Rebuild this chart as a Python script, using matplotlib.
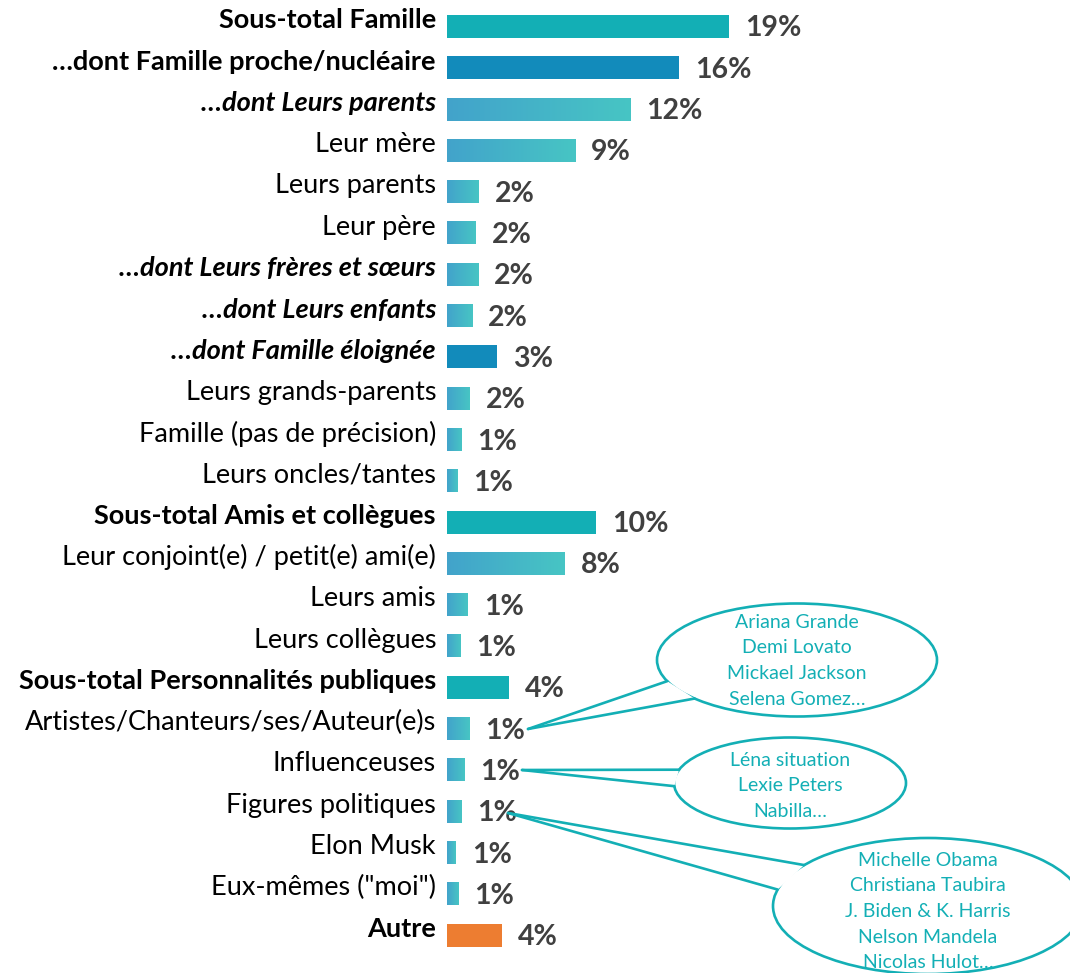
import numpy as np
import matplotlib
matplotlib.use("Agg")
import matplotlib.pyplot as plt
from matplotlib.colors import LinearSegmentedColormap
from matplotlib.patches import Ellipse, Polygon
from matplotlib.transforms import offset_copy

plt.rcParams['font.family'] = ['Lato', 'DejaVu Sans']

# data (bar lengths in %, labels as printed)
categories = [
    "Sous-total Famille",
    "…dont Famille proche/nucléaire",
    "…dont Leurs parents",
    "Leur mère",
    "Leurs parents",
    "Leur père",
    "…dont Leurs frères et sœurs",
    "…dont Leurs enfants",
    "…dont Famille éloignée",
    "Leurs grands-parents",
    "Famille (pas de précision)",
    "Leurs oncles/tantes",
    "Sous-total Amis et collègues",
    "Leur conjoint(e) / petit(e) ami(e)",
    "Leurs amis",
    "Leurs collègues",
    "Sous-total Personnalités publiques",
    "Artistes/Chanteurs/ses/Auteur(e)s",
    "Influenceuses",
    "Figures politiques",
    "Elon Musk",
    "Eux-mêmes (\"moi\")",
    "Autre",
]
values = [19.05, 15.7, 12.4, 8.65, 2.15, 1.95, 2.1, 1.7, 3.4, 1.55, 0.95, 0.7,
          10.05, 7.95, 1.4, 0.9, 4.2, 1.5, 1.15, 0.95, 0.6, 0.75, 3.7]
value_labels = ["19%", "16%", "12%", "9%", "2%", "2%", "2%", "2%", "3%", "2%", "1%", "1%",
                "10%", "8%", "1%", "1%", "4%", "1%", "1%", "1%", "1%", "1%", "4%"]
kinds = ["total", "dont", "sub", "item", "item", "item", "sub", "sub", "dont_it", "item", "item", "item",
         "total", "item", "item", "item", "total", "item", "item", "item", "item", "item", "autre"]

callout_texts = [
    ["Ariana Grande", "Demi Lovato", "Mickael Jackson", "Selena Gomez…"],
    ["Léna situation", "Lexie Peters", "Nabilla…"],
    ["Michelle Obama", "Christiana Taubira", "J. Biden & K. Harris", "Nelson Mandela", "Nicolas Hulot…"],
]

TEAL = "#13AFB5"
BLUE = "#128BBB"
ORANGE = "#ED7D31"
grad = LinearSegmentedColormap.from_list("g", ["#42A3CB", "#47C5C4"])

W, H = 1070, 973
fig = plt.figure(figsize=(W / 100, H / 100), dpi=100)
x0 = 447
ax = fig.add_axes([x0 / W, 0, 1 - x0 / W, 1])
xmax = (W - x0) / 14.8
pitch, first = 41.3, 26.5
ylim = ((H - first) / pitch, -first / pitch)
h = 23 / pitch

lab_tr = offset_copy(ax.transData, fig=fig, x=-11, y=6, units='dots')
val_tr = offset_copy(ax.transData, fig=fig, x=16, y=-2, units='dots')

for i, (cat, v, vl, k) in enumerate(zip(categories, values, value_labels, kinds)):
    if k in ("item", "sub"):
        ax.imshow(np.linspace(0, 1, 256).reshape(1, -1), cmap=grad, aspect='auto',
                  extent=[0, v, i + h / 2, i - h / 2], interpolation='bilinear', zorder=2)
    else:
        c = {"total": TEAL, "dont": BLUE, "dont_it": BLUE, "autre": ORANGE}[k]
        ax.barh(i, v, height=h, color=c, zorder=2)
    weight = "normal" if k == "item" else "bold"
    style = "italic" if k in ("sub", "dont_it") else "normal"
    ax.text(0, i, cat, transform=lab_tr, ha='right', va='center', fontsize=19.5,
            fontweight=weight, fontstyle=style, color="#000000")
    ax.text(v, i, vl, transform=val_tr, ha='left', va='center', fontsize=20.5,
            fontweight='bold', color="#404040")

ax.set_xlim(0, xmax)
ax.set_ylim(*ylim)
ax.axis('off')

# callout bubbles, in pixel coordinates
ov = fig.add_axes([0, 0, 1, 1], facecolor='none')
ov.set_xlim(0, W)
ov.set_ylim(H, 0)
ov.axis('off')

bubbles = [
    # centre, half-axes, tip, base angles (deg), first text line y
    dict(c=(797, 660), a=140, b=56.5, tip=(528, 729), t=(158, 137), y0=622),
    dict(c=(790, 783), a=116, b=45.5, tip=(522, 770), t=(197, 176), y0=760),
    dict(c=(928, 906), a=155, b=68, tip=(508, 813), t=(217, 194), y0=860),
]
for bub, lines in zip(bubbles, callout_texts):
    cx, cy = bub["c"]
    a, b = bub["a"], bub["b"]
    ov.add_patch(Ellipse((cx, cy), 2 * a, 2 * b, facecolor='white', edgecolor=TEAL, lw=1.9, zorder=3))
    pts = [(cx + a * np.cos(np.radians(t)), cy + b * np.sin(np.radians(t))) for t in bub["t"]]
    ov.add_patch(Polygon([bub["tip"], pts[0], pts[1]], closed=True, facecolor='white',
                         edgecolor='none', zorder=4))
    for p in pts:
        ov.plot([bub["tip"][0], p[0]], [bub["tip"][1], p[1]], color=TEAL, lw=1.9,
                solid_capstyle='round', zorder=5)
    for j, line in enumerate(lines):
        ov.text(cx, bub["y0"] + j * 25.7, line, ha='center', va='center', fontsize=14,
                color=TEAL, zorder=6)

fig.savefig("out.png", dpi=100)
